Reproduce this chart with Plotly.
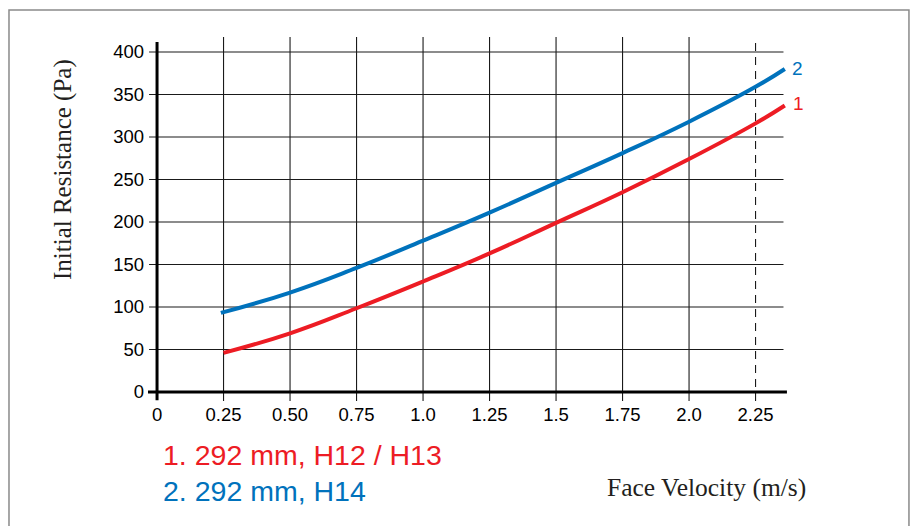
import plotly.graph_objects as go

# ---- data ----
x_h12 = [0.25, 0.50, 0.75, 1.00, 1.25, 1.50, 1.75, 2.00, 2.25, 2.36]
y_h12 = [46, 69, 98.5, 130, 163, 199, 235, 274, 316, 337]
x_h14 = [0.24, 0.50, 0.75, 1.00, 1.25, 1.50, 1.75, 2.00, 2.25, 2.36]
y_h14 = [93, 117, 146, 178, 211, 246, 281, 318, 359, 380]

x_tickvals = [0, 0.25, 0.5, 0.75, 1.0, 1.25, 1.5, 1.75, 2.0, 2.25]
x_ticktext = ["0", "0.25", "0.50", "0.75", "1.0", "1.25", "1.5", "1.75", "2.0", "2.25"]
y_tickvals = [0, 50, 100, 150, 200, 250, 300, 350, 400]
y_ticktext = [str(v) for v in y_tickvals]

series_labels = ["1. 292 mm, H12 / H13", "2. 292 mm, H14"]
end_labels = ["1", "2"]

RED = "#ED1C24"
BLUE = "#0072BC"
INK = "#231F20"

X_RANGE = [-0.034, 2.372]
Y_RANGE = [-10.6, 417.6]
GRID_RIGHT = 2.355

fig = go.Figure()
fig.add_trace(go.Scatter(x=x_h12, y=y_h12, mode="lines",
                         line=dict(color=RED, width=4, shape="spline", smoothing=1.3),
                         showlegend=False, hoverinfo="skip"))
fig.add_trace(go.Scatter(x=x_h14, y=y_h14, mode="lines",
                         line=dict(color=BLUE, width=4, shape="spline", smoothing=1.3),
                         showlegend=False, hoverinfo="skip"))

shapes = []
# horizontal grid lines + y tick marks
for v in y_tickvals[1:]:
    shapes.append(dict(type="line", xref="x", yref="y", x0=X_RANGE[0] + 0.004, x1=GRID_RIGHT,
                       y0=v, y1=v, line=dict(color="#1a1a1a", width=1.1), layer="below"))
# vertical grid lines
for v in x_tickvals[1:]:
    shapes.append(dict(type="line", xref="x", yref="paper", x0=v, x1=v, y0=0, y1=1,
                       line=dict(color="#1a1a1a", width=1.1,
                                 dash="8px,6px" if v == 2.25 else "solid"),
                       layer="below"))
# axes
shapes.append(dict(type="line", xref="x", yref="y", x0=X_RANGE[0], x1=X_RANGE[1] - 0.004,
                   y0=0, y1=0, line=dict(color="black", width=3)))
shapes.append(dict(type="line", xref="x", yref="y", x0=0, x1=0,
                   y0=Y_RANGE[0] + 1, y1=Y_RANGE[1] - 6, line=dict(color="black", width=3)))
# outer frame
shapes.append(dict(type="rect", xref="paper", yref="paper",
                   x0=-0.2172, x1=1.189, y0=-0.40, y1=1.074,
                   line=dict(color="#8a8a8a", width=1.5), fillcolor="rgba(0,0,0,0)"))

annotations = [
    dict(x=x_h14[-1], y=y_h14[-1], xref="x", yref="y", text=end_labels[1],
         showarrow=False, xanchor="left", yanchor="middle", xshift=5,
         font=dict(family="Liberation Sans", size=19, color=BLUE)),
    dict(x=x_h12[-1], y=y_h12[-1], xref="x", yref="y", text=end_labels[0],
         showarrow=False, xanchor="left", yanchor="middle", xshift=6, yshift=2,
         font=dict(family="Liberation Sans", size=19, color=RED)),
    dict(x=0.021, y=-0.148, xref="paper", yref="paper", text=series_labels[0],
         showarrow=False, xanchor="left", yanchor="middle",
         font=dict(family="Liberation Sans", size=28.5, color=RED)),
    dict(x=0.021, y=-0.246, xref="paper", yref="paper", text=series_labels[1],
         showarrow=False, xanchor="left", yanchor="middle",
         font=dict(family="Liberation Sans", size=28.5, color=BLUE)),
    dict(x=1.031, y=-0.239, xref="paper", yref="paper", text="Face Velocity (m/s)",
         showarrow=False, xanchor="right", yanchor="middle",
         font=dict(family="Liberation Serif", size=25.5, color=INK)),
    dict(x=-0.133, y=0.637, xref="paper", yref="paper", text="Initial Resistance (Pa)",
         showarrow=False, xanchor="center", yanchor="middle", textangle=-90,
         font=dict(family="Liberation Serif", size=25, color=INK)),
]

fig.update_layout(
    width=916, height=526,
    margin=dict(l=148, r=128, t=37, b=125),
    paper_bgcolor="white", plot_bgcolor="white",
    shapes=shapes, annotations=annotations,
    xaxis=dict(range=X_RANGE, tickvals=x_tickvals, ticktext=x_ticktext,
               showgrid=False, zeroline=False, showline=False, ticks="",
               tickfont=dict(family="Liberation Sans", size=18.5, color="black"),
               fixedrange=True),
    yaxis=dict(range=Y_RANGE, tickvals=y_tickvals, ticktext=y_ticktext,
               showgrid=False, zeroline=False, showline=False, ticks="",
               ticklabelstandoff=3,
               tickfont=dict(family="Liberation Sans", size=18.5, color="black"),
               fixedrange=True),
    showlegend=False,
)

fig.write_html("out.html", config={"displayModeBar": False},
               post_script="document.body.style.margin='0';document.body.style.overflow='hidden';")
